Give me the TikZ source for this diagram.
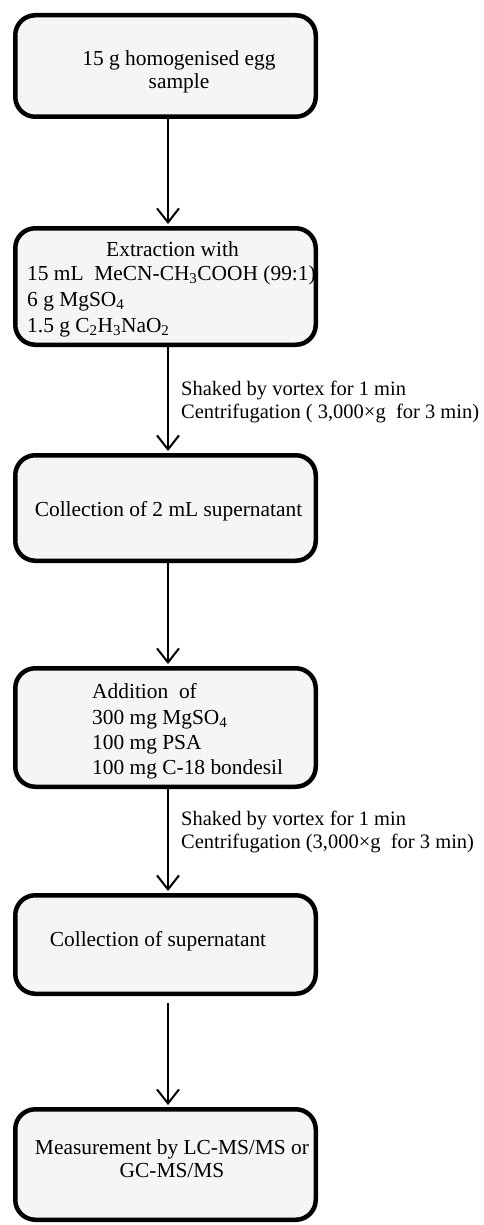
\documentclass[tikz,border=0pt]{standalone}
\usepackage{fontspec}
\setmainfont{Liberation Serif}
\usetikzlibrary{arrows.meta}
\definecolor{boxgray}{RGB}{245,245,245}
\begin{document}
\begin{tikzpicture}[x=1pt, y=-1pt,
  every node/.style={font=\fontsize{21.4}{26}\selectfont, inner sep=0pt},
  stage/.style={draw, line width=4.5pt, fill=boxgray, rounded corners=20pt, minimum width=300.5pt},
  flow/.style={line width=2pt, shorten >=2pt, -{Straight Barb[length=14pt,width=22pt,line width=2pt]}},
  note/.style={align=left, anchor=north west, font=\fontsize{20.5}{23}\selectfont}]
  \useasboundingbox (0,0) rectangle (484,1225);
  % boxes of the procedure
  \node[stage, minimum height=101.5pt] (sample) at (165.5,66) {};
  \node[stage, minimum height=116.5pt] (extract) at (165.5,286.5) {};
  \node[stage, minimum height=105.5pt] (collect) at (165.5,508) {};
  \node[stage, minimum height=118.5pt] (addition) at (165.5,727.5) {};
  \node[stage, minimum height=98.5pt] (collect2) at (165.5,944.5) {};
  \node[stage, minimum height=110.5pt] (measure) at (165.5,1164.5) {};
  % texts inside the boxes
  \node[align=center, anchor=north, font=\fontsize{21.4}{22.5}\selectfont] (sampletxt) at (179,50.5) {15 g homogenised egg\\sample};
  \node[anchor=base] (extracthead) at (172.5,256) {Extraction with};
  \node[align=left, anchor=north west] (extracttxt) at (27,265.5) {15 mL\ \ MeCN-CH\textsubscript{3}COOH (99:1)\\6 g MgSO\textsubscript{4}\\1.5 g C\textsubscript{2}H\textsubscript{3}NaO\textsubscript{2}};
  \node[anchor=base] (collecttxt) at (168.5,516) {Collection of 2 mL supernatant};
  \node[align=left, anchor=north west, font=\fontsize{21.4}{25.3}\selectfont] (additiontxt) at (92,683.5) {Addition\ \ of\\300 mg MgSO\textsubscript{4}\\100 mg PSA\\100 mg C-18 bondesil};
  \node[anchor=base] (collect2txt) at (158,946) {Collection of supernatant};
  \node[align=center, anchor=north, font=\fontsize{21.4}{23}\selectfont] (measuretxt) at (172,1139.5) {Measurement by LC-MS/MS or\\GC-MS/MS};
  % connectors
  \draw[flow] ([xshift=2.5pt]sample.south) -- ([xshift=2.5pt]extract.north);
  \draw[flow] ([xshift=2.5pt]extract.south) -- ([xshift=2.5pt]collect.north);
  \draw[flow] ([xshift=2.5pt]collect.south) -- ([xshift=2.5pt]addition.north);
  \draw[flow] ([xshift=2.5pt]addition.south) -- ([xshift=2.5pt]collect2.north);
  \draw[flow, shorten <=7pt] ([xshift=2.5pt]collect2.south) -- ([xshift=2.5pt]measure.north);
  % step notes
  \node[note] (shake1) at (181,381) {Shaked by vortex for 1 min\\Centrifugation ( 3,000×g\ \ for 3 min)};
  \node[note] (shake2) at (181,811) {Shaked by vortex for 1 min\\Centrifugation (3,000×g\ \ for 3 min)};
\end{tikzpicture}
\end{document}
